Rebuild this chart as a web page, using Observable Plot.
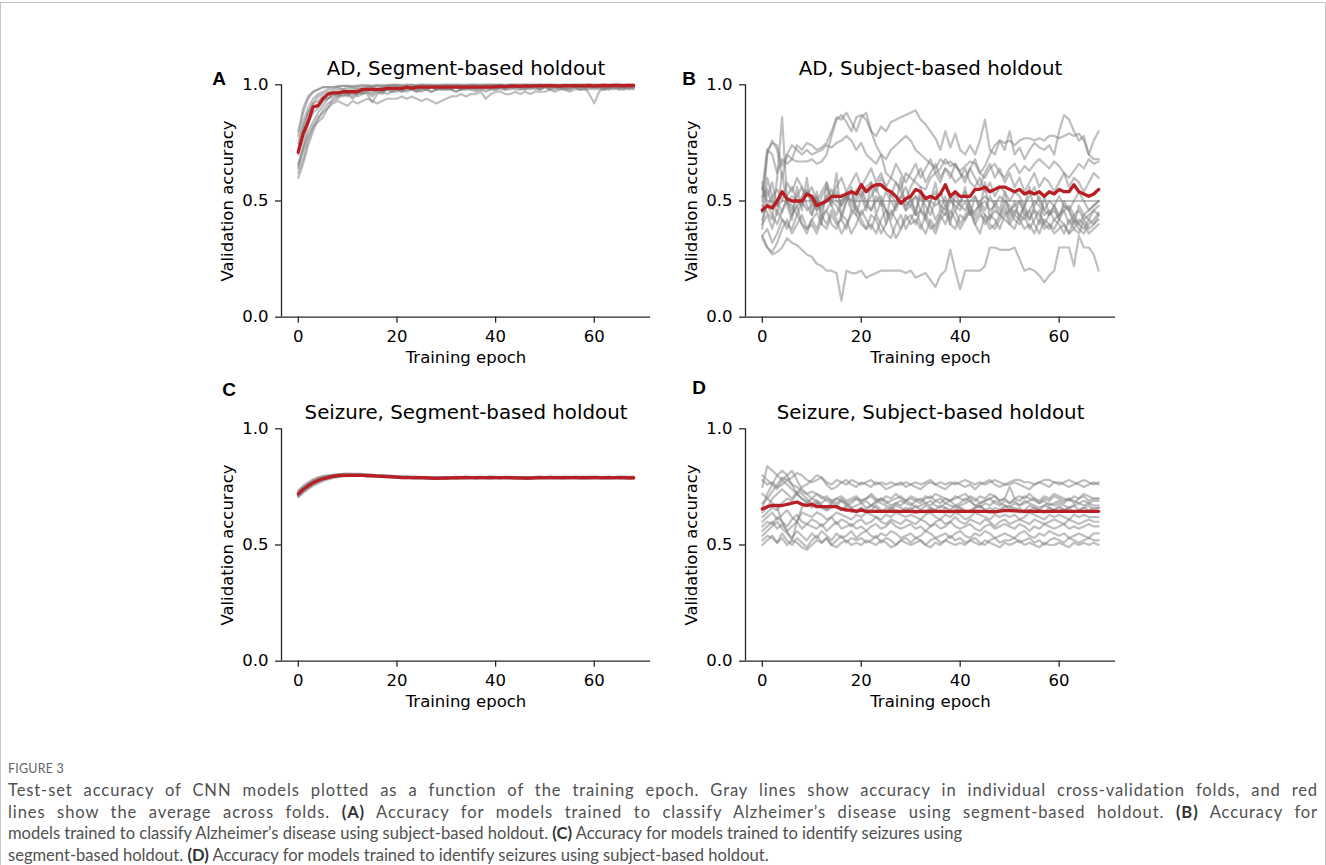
<!DOCTYPE html>
<html><head><meta charset="utf-8">
<script src="https://cdn.jsdelivr.net/npm/d3@7"></script>
<script src="https://cdn.jsdelivr.net/npm/@observablehq/plot@0.6"></script>
<style>
html,body{margin:0;padding:0;background:#fff;}
#page{position:relative;width:1326px;height:865px;overflow:hidden;background:#fff;}
#border{position:absolute;left:0;top:2px;width:1324px;height:900px;border:1px solid #c4c4c4;}
.panel{position:absolute;}
.panel svg{overflow:visible;}
#figlab{position:absolute;left:8px;top:761px;font-family:Lato,"Open Sans",sans-serif;font-size:12.5px;color:#666;letter-spacing:0.2px;}
#caption{position:absolute;left:8px;top:780px;font-family:Lato,"Open Sans",sans-serif;font-size:15px;color:#505050;line-height:21.5px;white-space:nowrap;}
#caption b{color:#333;font-weight:700;}
</style></head><body>
<div id="page"><div id="border"></div></div>
<script>
// ---------- axis / tick data ----------
const xTicks = [0, 20, 40, 60];
const yTicks = [0, 0.5, 1];
const xLabel = "Training epoch";
const yLabel = "Validation accuracy";

// ---------- Panel A: AD, segment-based holdout (values in %) ----------
const adSegFolds = [
[62,68,76,82,86,88,90,92,93,92, 91,93,92,93,94,93,92,93,94,94, 94,95,94,95,94,93,94,93,92,93, 94,95,95,96,95,96,96,97,94,96, 97,97,96,96,97,96,97,96,97,97, 97,98,97,98,98,97,98,98,98,98, 99,98,98,99,98,99,99,98,99],
[65,74,84,88,90,93,94,95,96,95, 96,94,96,97,96,92.5,96,97,96,97, 97,98,97,98,97,98,98,97,98,98, 98,98,97,98,98,99,98,98,97,98, 98,99,98,98,99,98,99,98,99,98, 99,98,99,99,98,99,99,98,99,96, 92,97,99,98,99,99,98,99,99],
[78,88,94,97,98,99,99,99,99.5,99.5, 99.5,99,99.5,99.5,100,99.5,99.5,100,99.5,100, 100,99.5,100,100,99.5,100,100,100,99.5,100, 100,100,100,99.5,100,100,100,100,100,100, 100,100,100,100,100,100,100,100,100,100, 100,100,100,100,100,100,100,100,100,100, 100,100,100,100,100,100,100,100,100],
[72,84,90,94,96,97,98,98,99,98, 99,99,98,99,99,99,99.5,99,99.5,99.5, 99.5,99.5,99,99.5,99.5,100,99.5,99.5,100,99.5, 100,99.5,100,100,99.5,100,100,99.5,100,100, 100,100,99.5,100,100,100,100,100,100,100, 100,100,100,99.5,100,100,100,100,100,100, 100,100,100,100,100,100,100,100,100],
[64,72,80,84,88,91,94,96,96,97, 97,96,98,97,98,98,97,98,99,98, 99,98,99,99,98,99,99,99,98,99, 99,99,99,98,99,99,99,99,99,99, 99,99,99.5,99,99,99.5,99,99.5,99.5,99, 99.5,99.5,99,99.5,99.5,99.5,99.5,99.5,99,99.5, 99.5,99.5,99.5,99.5,99.5,99,99.5,99.5,99.5],
[60,66,74,80,85,89,92,93,94,96, 95,97,96,97,98,97,98,97,98,98, 98,98,99,98,98,99,98,99,99,98, 99,98,99,99,99,98,99,99,99,99, 98,99,99,99,99,99,98,99,99,99, 99,99,99,98,99,99,99,99,99,99, 99,99,98,99,99,99,99,98.5,98.5],
[75,82,88,92,93,95,94,96,95,97, 96,97,95,96,97,95,97,96,98,97, 98,97,98,99,98,97,98,99,98,99, 98,99,99,98,99,99,98,99,99,99, 99,99,98,99,99,99,99,99,99,98, 99,99,99,99,99,98,99,99,99,99, 99,99,99,99,99,98,99,99,99],
[80,90,95,97,98,99,99,99,99,99.5, 99.5,99.5,99.5,100,99.5,99.5,100,99.5,100,100, 100,100,100,100,100,100,100,100,100,100, 100,100,100,100,100,100,100,100,100,100, 100,100,100,100,100,100,100,100,100,100, 100,100,100,100,100,100,100,100,100,100, 100,100,100,100,100,100,100,100,100],
[70,80,88,92,95,96,97,97,98,98, 98,98,99,98,99,99,98,99,99,99, 99,99,99,99,99,99,99,99,99,99.5, 99,99.5,99,99.5,99.5,99,99.5,99.5,99.5,99.5, 99.5,99.5,99.5,100,99.5,99.5,100,99.5,99.5,100, 99.5,100,99.5,99.5,100,99.5,100,99.5,100,99.5, 100,99.5,100,99.5,100,100,99.5,100,99.5],
[66,72,78,82,84,86,90,94,95,96, 96,95,97,96,97,96,98,97,98,97, 98,97,98,98,97,98,98,97,98,98, 98,98,97,98,98,98,97,98,98,98, 98,98,98,99,98,98,98,99,98,98, 99,98,98,99,98,98,99,98,98,99, 98,99,98,98,99,98,98,99,98]
];
const adSegMean = [71,79,84,90.5,91,94,96,96.5,96.5,97, 97,97,97,98,98,98,98,98,98.5,98.5, 98.5,98.5,99,98.5,99,99,99,99,99,99, 99,99,99,99,99,99,99,99,99,99, 99.2,99.3,99.2,99.4,99.4,99.3,99.5,99.4,99.5,99.5, 99.5,99.6,99.5,99.4,99.6,99.5,99.6,99.5,99.5,99.7, 99.4,99.6,99.7,99.6,99.7,99.7,99.6,99.7,99.7];

// ---------- Panel B: AD, subject-based holdout (values in %) ----------
const adSubFolds = [
[50,72,75,74,65,70,68,74,72,75, 74,72,73,75,80,86,85,88,84,80, 86,88,80,78,82,80,84,85,86,87, 88,89,85,83,80,77,72,80,73,79, 72,70,74,70,76,85,72,70,76,72, 80,70,73,68,72,75,73,72,74,70, 80,87,85,80,76,78,70,76,80],
[55,72,70,62,68,66,68,67,67,67, 68,66,67,70,78,85,87,84,80,86, 87,85,80,74,70,62,60,58,55,62, 60,58,56,55,60,62,64,68,65,66, 62,60,64,68,62,65,70,74,76,75, 76,74,76,77,77,76,77,76,78,78, 77,78,79,78,79,76,70,68,68],
[45,70,76,72,60,70,74,72,70,72, 70,71,72,74,73,75,76,78,76,72, 75,70,68,66,70,68,72,74,76,78, 76,72,70,68,66,64,68,66,67,65, 63,65,67,66,62,60,64,66,62,60, 64,66,62,65,63,66,68,66,64,67, 65,62,60,63,66,64,68,66,67],
[48,45,42,60,86,50,44,48,52,55, 50,46,48,52,55,50,48,52,46,50, 54,48,52,56,50,46,44,48,52,50, 48,52,46,44,50,54,48,46,52,50, 48,46,50,52,48,50,46,48,52,50, 46,48,50,44,46,50,48,44,46,42, 44,48,46,42,40,44,46,48,50],
[55,50,50,48,50,50,52,50,50,50, 50,50,48,50,50,50,50,52,50,50, 50,50,50,50,50,50,50,50,50,48, 50,52,50,50,50,48,50,50,50,50, 50,50,50,50,50,52,50,50,50,50, 50,50,50,50,50,50,50,50,50,50, 50,50,50,50,50,50,50,50,50],
[35,38,32,36,42,40,38,44,40,38, 42,45,40,38,44,40,42,38,46,44, 40,38,44,42,36,40,46,42,38,44, 40,42,38,44,40,36,42,45,40,38, 44,42,46,40,44,42,38,40,44,42, 40,44,42,38,40,36,42,38,40,36, 38,40,36,42,38,36,40,42,45],
[58,48,44,40,46,50,48,44,50,46, 48,52,44,46,50,48,44,50,54,46, 44,48,46,50,52,46,42,48,50,46, 48,44,46,52,48,42,46,44,50,48, 46,50,44,46,48,44,42,46,44,48, 42,46,44,48,42,46,44,40,44,46, 42,46,48,44,40,38,42,40,44],
[52,55,48,50,45,52,56,50,48,54, 50,46,52,56,50,54,48,52,50,55, 52,56,58,54,60,56,52,58,54,50, 56,60,64,58,62,66,60,64,62,58, 60,64,58,56,60,54,58,52,56,54, 50,54,52,48,52,56,50,46,50,48, 52,48,46,50,54,50,46,48,50],
[40,44,38,46,42,38,44,48,40,36, 42,38,44,40,46,42,36,40,44,48, 42,38,40,36,42,46,40,34,38,42, 44,40,46,42,38,40,44,48,42,46, 40,44,48,42,46,40,44,42,38,44, 46,42,40,44,38,42,46,40,38,42, 40,36,42,38,36,42,38,40,42],
[42,48,52,55,50,58,54,60,56,52, 56,50,54,58,52,56,60,54,58,62, 56,60,64,58,62,56,60,66,62,58, 62,66,60,64,68,62,58,64,60,66, 62,58,64,60,56,62,66,60,64,58, 62,56,60,54,58,62,56,60,58,54, 58,62,56,60,58,54,58,62,60],
[34,30,28,32,38,42,36,40,44,38, 40,36,42,46,40,38,44,42,36,40, 46,42,38,44,40,36,34,40,44,38, 42,46,40,36,42,38,44,40,46,42, 38,42,46,40,36,44,40,38,42,46, 40,38,44,42,46,40,36,42,40,38, 42,40,36,38,42,40,36,38,40],
[35,30,27,28,30,34,32,31,29,27, 26,23,22,20,20,19,7,20,19,19, 20,17,18,19,20,20,20,20,20,19, 20,17,18,19,16,13,18,20,29,20, 12,20,20,20,20,22,30,30,29,29, 29,30,25,20,21,20,18,15,18,20, 30,30,30,22,35,30,30,27,20],
[56,52,58,48,54,50,46,52,56,48, 44,50,46,52,48,44,50,54,48,52, 56,50,46,52,48,54,50,46,52,56, 50,46,52,48,44,50,54,48,52,46, 50,54,48,44,50,46,52,48,44,50, 48,44,50,46,42,48,52,46,44,48, 44,46,40,44,46,42,44,46,48],
[38,60,52,44,62,48,42,56,46,60, 44,54,40,58,48,62,42,50,56,44, 52,46,58,44,50,40,54,48,60,46, 52,44,56,42,50,58,46,52,40,54, 48,56,44,52,46,58,42,50,46,54, 44,50,42,48,56,46,40,52,44,48, 42,50,46,40,48,44,42,46,44]
];
const adSubMean = [46,48,47,50,54,51,50,50,50,53, 52,48,49,50,52,52,52,53,54,53, 57,54,56,57,57,55,54,52,49,51, 52,55,54,51,52,51,53,57,52,54, 52,52,52,55,55,56,54,55,56,56, 55,54,55,53,54,53,54,52,54,53, 55,54,54,57,54,53,52,53,55];

// ---------- Panel C: Seizure, segment-based holdout (values in %) ----------
const szSegFolds = [
[71,73.5,75,76.5,77.5,78.5,79.2,79.8,80.2,80.5, 80.4,80.6,80.3,80.5,80.1,80.3,79.9,80,79.7,79.8, 79.5,79.3,79.6,79.2,79.4,79.1,79.3,79,79.2,79, 79.3,79.1,79.4,79.2,79.5,79.1,79.3,79.4,79.2,79.5, 79.3,79.1,79.4,79.2,79.3,79,79.2,79.1,79.3,79.4, 79.2,79.5,79.3,79.1,79.4,79.2,79.5,79.3,79.4,79.2, 79.5,79.3,79.2,79.4,79.1,79.3,79.5,79.2,79.4],
[73,75,76.5,78,79,79.5,80,80.2,80.4,80.3, 80.5,80.2,80.4,80.1,80.3,80,79.8,79.9,79.6,79.5, 79.3,79.4,79.1,79.2,78.9,79,79.2,78.9,79,78.8, 79,79.2,78.9,79.1,79.3,79,79.2,78.9,79.1,79, 79.2,78.9,79.1,79.3,79,78.8,79,79.1,78.9,79.2, 79,79.3,79.1,78.9,79.2,79,79.1,78.9,79.2,79, 79.1,78.9,79.2,79,79.1,78.8,79,79.2,79],
[70.5,72.5,74,75.5,76.5,77.5,78.2,78.8,79.2,79.5, 79.6,79.8,79.7,79.9,79.6,79.5,79.4,79.2,79.3,79, 78.9,78.8,78.9,78.6,78.7,78.5,78.7,78.4,78.5,78.6, 78.5,78.7,78.6,78.8,78.6,78.7,78.5,78.8,78.6,78.7, 78.9,78.6,78.8,78.5,78.7,78.6,78.4,78.6,78.5,78.7, 78.6,78.8,78.5,78.7,78.6,78.9,78.7,78.5,78.7,78.6, 78.8,78.6,78.7,78.5,78.8,78.6,78.5,78.7,78.6],
[72.5,74.5,76,77.5,78.5,79.2,79.6,80,80.3,80.6, 80.8,80.6,80.7,80.5,80.4,80.2,80.1,79.9,80,79.8, 79.6,79.5,79.3,79.4,79.2,79.3,79,79.1,78.9,79.1, 79,78.9,79.1,79.2,79,79.3,79.1,79.2,79,79.2, 79.1,79.3,79,79.2,79.1,78.9,79.1,79,79.2,79.3, 79.1,79,79.2,79.4,79.1,79.3,79,79.2,79.1,79.3, 79.2,79,79.3,79.1,79.2,79.4,79.1,79.3,79.2],
[71.5,73,74.5,76,77,78,78.7,79.2,79.6,79.8, 80,79.9,80.1,79.8,79.9,79.6,79.7,79.4,79.5,79.2, 79.1,78.9,79,78.8,78.9,78.7,78.8,78.6,78.8,78.5, 78.7,78.9,78.6,78.8,78.7,78.9,78.6,78.8,78.9,78.7, 78.8,78.6,78.9,78.7,78.5,78.8,78.6,78.7,78.9,78.6, 78.8,78.7,78.9,78.6,78.8,78.7,78.9,78.6,78.8,78.7, 78.9,78.7,78.6,78.8,78.7,78.9,78.6,78.8,78.7],
[73.5,75.5,77,78.2,79,79.6,79.9,80.1,80.3,80.4, 80.2,80.4,80.3,80.1,80.2,80,79.9,79.7,79.8,79.6, 79.4,79.2,79.3,79.1,79.2,78.9,79.1,78.9,78.8,79, 78.9,79.1,79,78.8,79.1,78.9,79,79.2,78.9,79.1, 79,78.8,79.1,78.9,79,78.8,78.9,79.1,78.9,79, 79.2,78.9,79.1,79,78.8,79.1,78.9,79,79.2,79, 78.9,79.1,79,78.8,79,79.1,78.9,79,78.8],
[72,73.8,75.2,76.4,77.4,78.2,78.8,79.4,79.7,79.9, 79.8,80,79.9,80.1,79.8,79.9,79.5,79.6,79.3,79.4, 79.1,79.2,78.9,79,78.8,79,78.7,78.9,78.6,78.8, 78.7,78.9,79,78.8,78.9,79.1,78.8,79,78.9,78.7, 78.9,79.1,78.8,79,78.9,78.7,78.9,78.8,79,79.1, 78.9,79,78.8,79.1,78.9,78.8,79,78.9,78.7,79, 78.8,79,78.9,79.1,78.8,79,78.9,78.7,78.9],
[71,72.8,74.6,76.2,77.6,78.6,79.4,79.9,80.1,80.2, 80.1,80.3,80.2,80.4,80,80.1,79.8,79.9,79.6,79.7, 79.4,79.2,79.3,79,79.1,78.9,79.1,78.8,79,78.9, 79.1,78.9,79.2,79,79.1,78.9,79.2,79,79.1,79.3, 79,79.2,78.9,79.1,79.2,79,79.3,79.1,79,79.2, 79.1,78.9,79.2,79,79.3,79.1,79,79.2,79.1,79.3, 79,79.2,79.1,79.3,79,79.2,79.1,78.9,79.1]
];
const szSegMean = [72,74,75.5,76.8,77.8,78.5,79,79.5,79.8,80, 80,80,80,80,79.8,79.8,79.6,79.5,79.4,79.3, 79.2,79,79,79,79,79,78.9,78.8,78.7,78.8, 78.8,78.9,78.9,79,79,79,79,79,79,79, 79,79,79,79,78.9,78.9,78.8,78.8,78.9,79, 79,79,79,79,79,79,79,79,79,79, 79,79,79,79,79,79,79,78.9,78.9];

// ---------- Panel D: Seizure, subject-based holdout (values in %) ----------
const szSubFolds = [
[78,76,77,75,76,78,79,81,80,78, 77,78,79,77,76,78,77,76,78,77, 76,77,78,76,77,76,77,76,76,77, 76,77,76,77,78,76,77,76,77,76, 77,78,77,76,77,76,77,78,77,76, 77,78,78,77,77,76,77,78,78,77, 77,76,75,76,77,78,77,76,77],
[75,84,82,80,78,76,74,72,75,76, 78,80,79,76,74,75,77,78,76,75, 77,76,75,77,76,74,75,76,77,75, 76,75,74,76,77,76,75,74,76,77, 76,75,76,74,76,77,78,76,75,76, 76,77,76,75,74,76,77,76,75,77, 76,77,78,77,76,75,76,77,76],
[66,72,76,74,78,80,82,78,74,72, 73,72,70,71,69,70,71,69,70,71, 69,70,72,70,69,71,70,72,70,69, 71,70,69,71,70,72,71,70,69,70, 71,72,70,69,71,70,72,71,69,70, 75,70,71,70,72,70,69,71,70,72, 71,70,69,71,70,72,71,70,70],
[68,70,73,76,79,78,76,75,73,72, 70,72,71,69,68,70,69,67,68,70, 68,69,67,68,70,69,67,68,69,68, 67,69,70,68,67,69,68,70,69,67, 68,70,69,67,68,69,70,68,67,69, 68,69,67,68,69,70,68,69,67,68, 69,68,70,69,68,69,68,69,69],
[64,66,70,72,74,72,70,73,72,70, 68,69,67,66,68,67,69,68,66,67, 68,66,67,69,68,67,66,68,67,69, 68,66,67,68,69,67,66,68,67,66, 67,68,69,67,66,68,67,69,68,67, 66,68,67,69,68,67,66,67,68,67, 68,67,66,67,68,67,68,67,67],
[62,64,66,65,68,70,69,72,70,69, 67,68,66,65,67,66,65,67,66,64, 66,65,67,66,64,66,65,67,66,65, 66,64,65,67,66,65,64,66,65,67, 66,65,64,66,67,65,66,64,65,66, 67,65,66,64,65,66,65,67,66,65, 66,65,66,67,65,66,65,66,66],
[60,62,64,61,63,65,62,60,64,63, 62,64,63,61,62,64,63,62,61,63, 62,64,63,62,61,63,62,64,63,62, 63,62,61,63,64,62,61,63,62,64, 63,61,62,64,63,62,61,63,62,63, 62,63,61,62,64,63,62,61,63,62, 63,62,61,63,62,63,62,62,62],
[58,60,59,62,60,58,61,63,60,59, 61,60,58,60,62,59,61,60,58,60, 61,59,60,62,60,59,61,60,59,61, 60,59,61,60,58,60,61,59,60,62, 60,59,61,60,59,61,60,58,60,61, 59,60,61,60,59,61,60,59,60,61, 60,59,61,60,59,60,61,60,60],
[56,58,60,57,59,56,58,60,57,59, 58,57,59,56,58,60,57,58,59,57, 58,56,58,59,57,58,60,58,57,58, 59,57,58,56,58,59,57,58,60,58, 57,58,59,57,56,58,59,57,58,59, 58,57,59,58,56,58,57,59,58,57, 58,59,57,58,57,58,59,58,58],
[54,56,58,60,57,55,53,56,54,52, 55,53,56,54,52,55,53,54,56,53, 55,56,54,53,55,54,56,55,53,54, 55,53,54,56,55,53,54,55,53,55, 56,54,53,55,54,56,55,53,54,55, 54,53,55,56,54,53,55,54,56,55, 54,55,53,54,55,54,53,55,55],
[52,54,53,51,55,52,50,53,51,49, 52,54,51,53,50,52,54,51,53,52, 53,51,52,54,51,53,52,50,52,53, 51,53,52,50,52,53,51,52,54,52, 53,51,52,53,51,50,52,53,51,52, 52,53,51,52,53,51,52,50,52,53, 52,51,53,52,51,52,53,52,52],
[50,52,54,51,53,50,52,51,49,48, 50,52,51,53,50,49,51,52,50,51, 50,52,51,50,52,51,49,50,52,51, 50,51,52,50,49,51,50,52,51,50, 51,50,52,51,50,52,51,50,49,51, 50,51,52,50,51,50,49,51,50,50, 51,50,49,51,50,51,50,51,50],
[72,70,68,66,60,56,52,60,66,68, 70,69,68,70,69,68,70,68,69,70, 69,70,71,69,70,68,69,70,71,69, 70,69,68,70,71,69,70,68,69,71, 70,69,71,70,68,69,70,71,69,70, 68,70,69,71,70,69,68,70,69,71, 70,69,70,68,70,71,69,70,70],
[80,78,76,80,82,80,76,72,70,68, 66,68,67,65,66,67,65,66,64,65, 66,64,65,67,65,64,66,65,64,66, 65,67,65,64,66,65,67,66,64,65, 66,64,65,66,67,65,64,66,65,67, 65,66,64,65,67,66,65,64,66,65, 67,65,66,64,65,66,67,65,66]
];
const szSubMean = [65.5,66.5,67,67,67,67.5,68,68.5,67.5,67, 67.5,66.5,66.5,66.5,66.5,66.5,65.5,65,65,64.5, 65,64.5,64.5,64.5,64.5,64.5,64.5,64.5,64.5,64.5, 64.5,64.3,64.5,64.5,64.6,64.5,64.5,64.4,64.5,64.5, 64.6,64.5,64.5,64.6,64.5,64.5,64.4,64.3,64.6,64.8, 64.8,64.7,64.6,64.5,64.6,64.5,64.6,64.4,64.5,64.6, 64.5,64.6,64.5,64.5,64.5,64.5,64.5,64.5,64.5];

const panels = [
  {letter: "A", title: "AD, Segment-based holdout", folds: adSegFolds, mean: adSegMean, left: 200, top: 40, lx: 218.5, ly: 78.5},
  {letter: "B", title: "AD, Subject-based holdout", folds: adSubFolds, mean: adSubMean, left: 664, top: 40, lx: 688.5, ly: 78.5},
  {letter: "C", title: "Seizure, Segment-based holdout", folds: szSegFolds, mean: szSegMean, left: 200, top: 384, lx: 228.5, ly: 389.5},
  {letter: "D", title: "Seizure, Subject-based holdout", folds: szSubFolds, mean: szSubMean, left: 664, top: 384, lx: 698.5, ly: 387}
];

const W = 460, H = 330, mL = 81, mT = 44.3, mB = 53.3;
const page = document.getElementById("page");
const axisColor = "#262626";

for (const p of panels) {
  const mR = p.left === 200 ? 10 : 9;
  const foldRows = p.folds.flatMap((s, k) => s.map((v, i) => ({epoch: i, acc: v / 100, fold: k})));
  const meanRows = p.mean.map((v, i) => ({epoch: i, acc: v / 100}));
  const chart = Plot.plot({
    width: W, height: H,
    marginLeft: mL, marginRight: mR, marginTop: mT, marginBottom: mB,
    style: {fontFamily: "DejaVu Sans", fontSize: "16.5px", color: "#000", background: "transparent", overflow: "visible"},
    x: {domain: [-3.4, 71.4]},
    y: {domain: [0, 1]},
    marks: [
      Plot.line(foldRows, {x: "epoch", y: "acc", z: "fold", stroke: "#808080", strokeOpacity: 0.5, strokeWidth: 2.2, strokeLinejoin: "round"}),
      Plot.line(meanRows, {x: "epoch", y: "acc", stroke: "#b81f24", strokeWidth: 3.3, strokeLinejoin: "round"}),
      Plot.axisX({ticks: xTicks, tickSize: 6, tickPadding: 7, label: null, stroke: axisColor, strokeWidth: 1.3, fill: "#000", fontSize: 16.5}),
      Plot.axisY({ticks: yTicks, tickFormat: d3.format(".1f"), tickSize: 6, tickPadding: 7, label: null, stroke: axisColor, strokeWidth: 1.3, fill: "#000", fontSize: 16.5}),
      Plot.ruleY([0], {stroke: axisColor, strokeWidth: 1.3}),
      Plot.ruleX([-3.4], {stroke: axisColor, strokeWidth: 1.3}),
      Plot.text([p.title], {text: d => d, frameAnchor: "top", textAnchor: "middle", lineAnchor: "middle", dy: -16.5, fontSize: 19.8, fill: "#000"}),
      Plot.text([xLabel], {text: d => d, frameAnchor: "bottom", textAnchor: "middle", lineAnchor: "middle", dy: 41, fontSize: 16.5, fill: "#000"}),
      Plot.text([yLabel], {text: d => d, frameAnchor: "left", textAnchor: "middle", lineAnchor: "middle", dx: -54, rotate: -90, fontSize: 16.5, fill: "#000"}),
      Plot.text([p.letter], {text: d => d, frameAnchor: "top-left", textAnchor: "middle", lineAnchor: "middle", dx: p.lx - (p.left + mL), dy: p.ly - (p.top + mT), fontSize: 19, fontWeight: "bold", fontFamily: "Liberation Sans", fill: "#000"})
    ]
  });
  const div = document.createElement("div");
  div.className = "panel";
  div.style.left = p.left + "px";
  div.style.top = p.top + "px";
  div.appendChild(chart);
  page.appendChild(div);
}

// ---------- caption ----------
const figLabel = "FIGURE 3";
const captionLines = [
  "Test-set accuracy of CNN models plotted as a function of the training epoch. Gray lines show accuracy in individual cross-validation folds, and red",
  "lines show the average across folds. <b>(A)</b> Accuracy for models trained to classify Alzheimer’s disease using segment-based holdout. <b>(B)</b> Accuracy for",
  "models trained to classify Alzheimer’s disease using subject-based holdout. <b>(C)</b> Accuracy for models trained to identify seizures using",
  "segment-based holdout. <b>(D)</b> Accuracy for models trained to identify seizures using subject-based holdout."
];
const fl = document.createElement("div");
fl.id = "figlab"; fl.textContent = figLabel; page.appendChild(fl);
const cap = document.createElement("div");
cap.id = "caption";
cap.innerHTML = captionLines.map(l => "<span>" + l + "</span>").join("<br>");
page.appendChild(cap);
// size the font from the third (unjustified) line, then justify the first two lines,
// sharing the extra width between letters and word gaps
const spans = [...cap.querySelectorAll("span")];
const w3 = spans[2].getBoundingClientRect().width;
cap.style.fontSize = Math.max(13, Math.min(17, 15 * 955 / w3)).toFixed(2) + "px";
for (const s of spans.slice(0, 2)) {
  const w = s.getBoundingClientRect().width;
  const extra = Math.max(0, 1310 - w);
  const nChars = s.textContent.length;
  const nSpaces = (s.textContent.match(/ /g) || []).length;
  s.style.letterSpacing = (extra * 0.5 / nChars).toFixed(3) + "px";
  s.style.wordSpacing = (extra * 0.5 / nSpaces).toFixed(3) + "px";
}
</script>
</body></html>
